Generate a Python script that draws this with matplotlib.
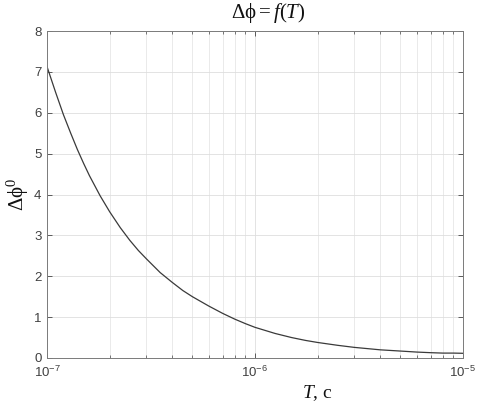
import matplotlib
matplotlib.use("Agg")
import matplotlib.pyplot as plt
from matplotlib.ticker import LogLocator, NullFormatter

# values
T = [1.0e-7, 1.1e-7, 1.2e-7, 1.3e-7, 1.4e-7, 1.5e-7, 1.6e-7, 1.8e-7, 2.0e-7,
     2.25e-7, 2.5e-7, 2.75e-7, 3.0e-7, 3.5e-7, 4.0e-7, 4.5e-7, 5.0e-7, 6.0e-7,
     7.0e-7, 8.0e-7, 9.0e-7, 1.0e-6, 1.25e-6, 1.5e-6, 1.75e-6, 2.0e-6, 2.5e-6,
     3.0e-6, 4.0e-6, 5.0e-6, 6.0e-6, 7.0e-6, 8.0e-6, 9.0e-6, 1.0e-5]
dphi = [7.13, 6.50, 5.95, 5.50, 5.10, 4.76, 4.46, 3.97, 3.58,
        3.19, 2.88, 2.63, 2.43, 2.09, 1.85, 1.65, 1.50, 1.27,
        1.09, 0.95, 0.84, 0.75, 0.60, 0.50, 0.43, 0.38, 0.31,
        0.26, 0.20, 0.17, 0.145, 0.13, 0.12, 0.12, 0.115]

x_ticks = [1e-7, 1e-6, 1e-5]
x_labels = [r"$\mathsf{10^{-7}}$", r"$\mathsf{10^{-6}}$", r"$\mathsf{10^{-5}}$"]
y_ticks = [0, 1, 2, 3, 4, 5, 6, 7, 8]

plt.rcParams["mathtext.fontset"] = "custom"
plt.rcParams["mathtext.rm"] = "Liberation Serif"
plt.rcParams["mathtext.it"] = "Liberation Serif:italic"
plt.rcParams["mathtext.sf"] = "Liberation Sans"
plt.rcParams["font.family"] = ["Liberation Sans", "DejaVu Sans"]

axis_col = "#454545"

fig = plt.figure(figsize=(4.85, 4.04), dpi=100)
ax = fig.add_axes([47 / 485, 46 / 404, 416 / 485, 327 / 404])

ax.plot(T, dphi, color="#3a3a3a", linewidth=0.9)

ax.set_xscale("log")
ax.set_xlim(1e-7, 1e-5)
ax.set_ylim(0, 8)
ax.set_xticks(x_ticks)
ax.set_xticklabels(x_labels)
ax.xaxis.set_minor_locator(LogLocator(base=10, subs=range(2, 10)))
ax.xaxis.set_minor_formatter(NullFormatter())
ax.set_yticks(y_ticks)

ax.tick_params(which="both", direction="in", top=True, right=True,
               colors=axis_col, labelsize=9.5, labelcolor="#404040")
ax.tick_params(which="major", length=3.5, width=0.6)
ax.tick_params(which="minor", length=2.0, width=0.5)
ax.tick_params(axis="x", pad=5)
ax.tick_params(axis="y", pad=4)

for s in ax.spines.values():
    s.set_color("#7a7a7a")
    s.set_linewidth(0.7)

ax.grid(True, which="major", color="#dedede", linewidth=0.6)
ax.grid(True, which="minor", axis="x", color="#e6e6e6", linewidth=0.6)
ax.set_axisbelow(True)

# title sits a bit right of centre in the reference
fig.text(268 / 485, 1 - 13 / 404, r"$\mathrm{Δϕ} = f(T)$", fontsize=15,
         ha="center", va="center", color="#111111")
ax.set_ylabel(r"$\mathrm{Δϕ}^0$", fontsize=15, labelpad=2, color="#111111")
ax.set_xlabel(r"$T$, c", fontsize=14, family="Liberation Serif", labelpad=2,
              color="#111111")
ax.xaxis.label.set_x((317 - 47) / 416)

fig.savefig("out.png", dpi=100)
